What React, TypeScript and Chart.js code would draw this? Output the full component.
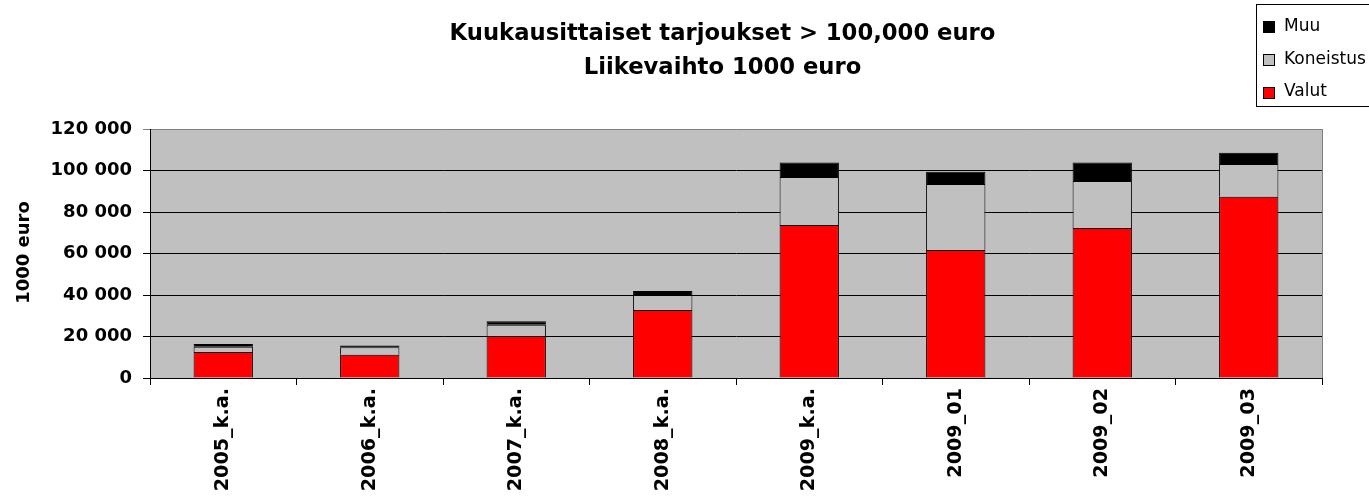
import React, { useEffect, useRef } from "react";
import { Chart, registerables } from "chart.js";

Chart.register(...registerables);

const categories = ["2005_k.a.", "2006_k.a.", "2007_k.a.", "2008_k.a.", "2009_k.a.", "2009_01", "2009_02", "2009_03"];
const valut = [12500, 11200, 20200, 32800, 73700, 61700, 72300, 87400];
const koneistus = [2600, 3600, 5500, 7200, 23200, 31800, 22600, 15700];
const muu = [1300, 900, 1600, 1900, 6900, 5900, 8900, 5500];
const titleLines = ["Kuukausittaiset tarjoukset > 100,000 euro", "Liikevaihto 1000 euro"];
const yAxisTitle = "1000 euro";
const legendItems = [
  { label: "Muu", color: "#000000" },
  { label: "Koneistus", color: "#C0C0C0" },
  { label: "Valut", color: "#FF0000" },
];

const FONT = "'DejaVu Sans', sans-serif";

const fmt = (v: number) => String(v).replace(/\B(?=(\d{3})+(?!\d))/g, " ");

const decorPlugin = {
  id: "decor",
  beforeDraw(chart: any) {
    const { ctx, chartArea: a } = chart;
    ctx.save();
    ctx.fillStyle = "#C0C0C0";
    ctx.fillRect(a.left, a.top, a.right - a.left, a.bottom - a.top);
    ctx.restore();
  },
  afterDatasetsDraw(chart: any) {
    const { ctx, chartArea: a } = chart;
    ctx.save();
    ctx.strokeStyle = "#808080";
    ctx.lineWidth = 1;
    ctx.beginPath();
    ctx.moveTo(Math.round(a.right) + 0.5, a.top);
    ctx.lineTo(Math.round(a.right) + 0.5, a.bottom);
    ctx.stroke();
    ctx.restore();
  },
  afterDraw(chart: any) {
    const { ctx } = chart;
    ctx.save();
    // Title
    ctx.fillStyle = "#000";
    ctx.font = `bold 22.7px ${FONT}`;
    ctx.textAlign = "center";
    ctx.textBaseline = "alphabetic";
    ctx.fillText(titleLines[0], 722.5, 39.5);
    ctx.fillText(titleLines[1], 722.5, 74);
    // Y axis title
    ctx.save();
    ctx.translate(24, 252.5);
    ctx.rotate(-Math.PI / 2);
    ctx.font = `bold 18px ${FONT}`;
    ctx.textAlign = "center";
    ctx.textBaseline = "middle";
    ctx.fillText(yAxisTitle, 0, 0);
    ctx.restore();
    // Legend
    ctx.strokeStyle = "#000";
    ctx.lineWidth = 1;
    ctx.fillStyle = "#fff";
    ctx.fillRect(1256.5, 4.5, 200, 102);
    ctx.strokeRect(1256.5, 4.5, 200, 102);
    const centers = [26.5, 59.5, 92];
    ctx.font = `17px ${FONT}`;
    ctx.textAlign = "left";
    ctx.textBaseline = "middle";
    legendItems.forEach((it, i) => {
      const cy = centers[i];
      ctx.fillStyle = it.color;
      ctx.fillRect(1263.5, Math.round(cy - 5.5) + 0.5, 11, 11);
      ctx.strokeStyle = "#000";
      ctx.strokeRect(1263.5, Math.round(cy - 5.5) + 0.5, 11, 11);
      ctx.fillStyle = "#000";
      ctx.fillText(it.label, 1284, cy);
    });
    ctx.restore();
  },
};

export default function App() {
  const ref = useRef<HTMLCanvasElement | null>(null);
  useEffect(() => {
    if (!ref.current) return;
    Chart.defaults.font.family = FONT;
    const chart = new Chart(ref.current, {
      type: "bar",
      data: {
        labels: categories,
        datasets: [
          { label: "Valut", data: valut, backgroundColor: "#FF0000", borderColor: "#000", borderWidth: 1 },
          { label: "Koneistus", data: koneistus, backgroundColor: "#C0C0C0", borderColor: "#000", borderWidth: 1 },
          { label: "Muu", data: muu, backgroundColor: "#000000", borderColor: "#000", borderWidth: 1 },
        ],
      },
      options: {
        responsive: false,
        animation: false,
        layout: { padding: { top: 129, right: 47, bottom: 0, left: 0 } },
        datasets: { bar: { barPercentage: 0.405, categoryPercentage: 1 } },
        plugins: { legend: { display: false }, title: { display: false }, tooltip: { enabled: false } },
        scales: {
          x: {
            stacked: true,
            grid: { offset: true, drawOnChartArea: false, tickLength: 7, color: "#000" },
            border: { display: true, color: "#000" },
            ticks: { color: "#000", font: { size: 19.2, weight: "bold" }, minRotation: 90, maxRotation: 90, padding: 3, autoSkip: false },
            afterFit: (s: any) => { s.height = 123; },
          },
          y: {
            stacked: true,
            min: 0,
            max: 120000,
            ticks: { stepSize: 20000, color: "#000", font: { size: 18, weight: "bold" }, padding: 11, callback: (v: any) => fmt(Number(v)) },
            grid: { color: (c: any) => (c.tick && c.tick.value === 120000 ? "#808080" : "#000"), tickLength: 7, lineWidth: 1 },
            border: { display: true, color: "#000" },
            afterFit: (s: any) => { s.width = 150; },
          },
        },
      },
      plugins: [decorPlugin],
    } as any);
    return () => chart.destroy();
  }, []);
  return (
    <div style={{ position: "absolute", left: 0, top: 0, width: 1369, height: 501, background: "#fff" }}>
      <canvas ref={ref} width={1369} height={501} />
    </div>
  );
}
